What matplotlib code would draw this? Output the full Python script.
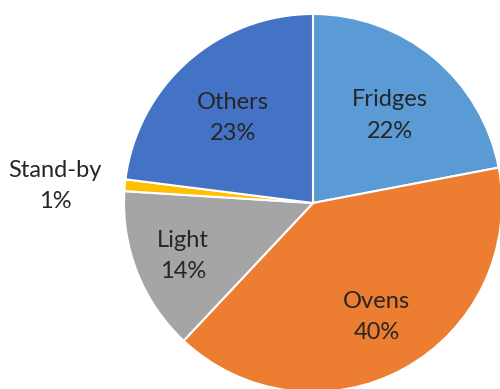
import numpy as np
import matplotlib.pyplot as plt

labels = ["Fridges", "Ovens", "Light", "Stand-by", "Others"]
shares = [22, 40, 14, 1, 23]
colors = ["#5B9BD5", "#ED7D31", "#A5A5A5", "#FFC000", "#4472C4"]
# radial position of each label (fraction of radius) and a small vertical nudge
label_r = [0.64, 0.70, 0.74, 1.37, 0.64]
label_dy = [-0.03, 0.01, -0.01, -0.04, -0.03]

plt.rcParams['font.family'] = ['Lato', 'DejaVu Sans']

fig = plt.figure(figsize=(5.0, 3.89), dpi=100)
ax = fig.add_axes([124 / 500, -3 / 389, 378 / 500, 378 / 389])

wedges, _ = ax.pie(shares, colors=colors, startangle=90, counterclock=False,
                   radius=1.0, wedgeprops=dict(edgecolor="white", linewidth=1.5))
ax.set_xlim(-1, 1)
ax.set_ylim(-1, 1)
ax.set_aspect("auto")
ax.axis("off")

for w, name, val, r, dy in zip(wedges, labels, shares, label_r, label_dy):
    mid = np.deg2rad((w.theta1 + w.theta2) / 2)
    ax.text(r * np.cos(mid), r * np.sin(mid) + dy, f"{name}\n{val}%",
            ha="center", va="center", fontsize=17, color="#262626",
            linespacing=1.6, clip_on=False)

fig.savefig("out.png", dpi=100)
